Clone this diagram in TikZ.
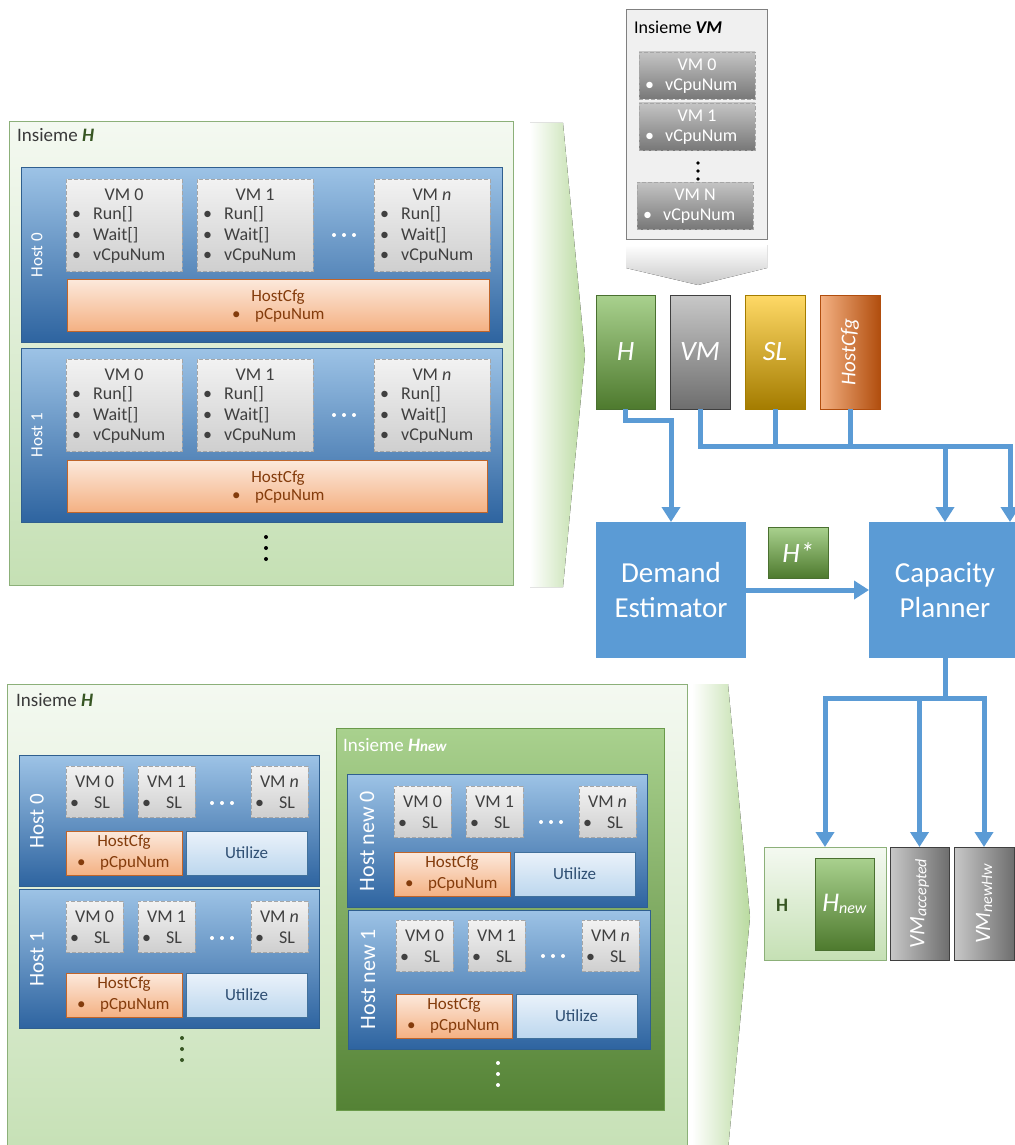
\documentclass[tikz,border=0pt]{standalone}
\usepackage{fontspec}
\setmainfont{Carlito}
\usetikzlibrary{arrows.meta}
\newcommand\fz[1]{\fontsize{#1}{#1}\selectfont}
\definecolor{connC}{HTML}{5B9BD5}
\definecolor{hostT}{HTML}{9DC3E6}
\definecolor{hostB}{HTML}{2E64A0}
\definecolor{hostD}{HTML}{2F5F8F}
\definecolor{insT}{HTML}{F4F9F1}
\definecolor{insB}{HTML}{C5E0B4}
\definecolor{insD}{HTML}{8CB079}
\definecolor{vmT}{HTML}{F2F2F2}
\definecolor{vmB}{HTML}{CFCFCF}
\definecolor{vmD}{HTML}{A6A6A6}
\definecolor{vmTxt}{HTML}{404040}
\definecolor{gvT}{HTML}{C4C4C4}
\definecolor{gvB}{HTML}{787878}
\definecolor{cfgT}{HTML}{FCE9DC}
\definecolor{cfgB}{HTML}{F4B183}
\definecolor{cfgD}{HTML}{C0652A}
\definecolor{cfgTxt}{HTML}{843C0C}
\definecolor{utT}{HTML}{EAF2FA}
\definecolor{utB}{HTML}{BDD7EE}
\definecolor{utD}{HTML}{41719C}
\definecolor{utTxt}{HTML}{2F4F73}
\definecolor{grT}{HTML}{A9D18E}
\definecolor{grB}{HTML}{4E7A2E}
\definecolor{grD}{HTML}{4A7030}
\definecolor{gyT}{HTML}{C8C8C8}
\definecolor{gyB}{HTML}{6E6E6E}
\definecolor{gyD}{HTML}{3F3F3F}
\definecolor{ylT}{HTML}{FFD966}
\definecolor{ylM}{HTML}{FFC000}
\definecolor{ylB}{HTML}{A47C00}
\definecolor{orL}{HTML}{F4B183}
\definecolor{orR}{HTML}{B14E0E}
\definecolor{darkG}{HTML}{375623}
\definecolor{chevG}{HTML}{B9DA9F}
\definecolor{chevGy}{HTML}{C8C8C8}
\definecolor{ivmF}{HTML}{F0F0F0}
\definecolor{txtD}{HTML}{3A3A3A}
\definecolor{hnT}{HTML}{A9D18E}
\definecolor{hnB}{HTML}{548235}
\definecolor{hnD}{HTML}{6A9A4A}

\tikzset{
 box/.style={rectangle,inner sep=0pt,outer sep=0pt,anchor=north west},
 insbox/.style={box,top color=insT,bottom color=insB,draw=insD,line width=1pt},
 hostbox/.style={box,top color=hostT,bottom color=hostB,draw=hostD,line width=0.8pt},
 vmbox/.style={box,top color=vmT,bottom color=vmB,draw=vmD,dash pattern=on 4pt off 2pt,line width=0.8pt},
 gvmbox/.style={box,top color=gvT,bottom color=gvB,draw=vmD,dash pattern=on 4pt off 2pt,line width=0.8pt},
 cfgbox/.style={box,top color=cfgT,bottom color=cfgB,draw=cfgD,line width=0.8pt},
 utbox/.style={box,top color=utT,bottom color=utB,draw=utD,line width=0.8pt},
 gbox/.style={box,top color=grT,bottom color=grB,draw=grD,line width=0.8pt},
 vmtxt/.style={text=vmTxt,font=\fz{18},inner sep=0pt},
 cfgtxt/.style={text=cfgTxt,font=\fz{17},inner sep=0pt},
 uttxt/.style={text=utTxt,font=\fz{17},inner sep=0pt},
 wtxt/.style={text=white,font=\fz{18},inner sep=0pt},
 hostlbl/.style={text=white,rotate=90,inner sep=0pt},
 conn/.style={draw=connC,line width=5pt},
 arr/.style={conn,-{Triangle[width=18pt,length=15pt]}},
 block/.style={box,fill=connC,text=white,align=center,font=\fontsize{29}{35}\selectfont},
}

% top VM box: name, x, y, title
\newcommand\topvm[4]{%
 \node[vmbox,minimum width=116pt,minimum height=92pt] (#1) at (#2,#3) {};
 \node[vmtxt] (#1t) at (#2+58,#3+16) {#4};
 \node[vmtxt,anchor=west] (#1a) at (#2+6,#3+35) {\makebox[21pt][l]{\textbullet}Run[]};
 \node[vmtxt,anchor=west] (#1b) at (#2+6,#3+56) {\makebox[21pt][l]{\textbullet}Wait[]};
 \node[vmtxt,anchor=west] (#1c) at (#2+6,#3+77) {\makebox[21pt][l]{\textbullet}vCpuNum};
}
% small VM box: name, x, y, title
\newcommand\smvm[4]{%
 \node[vmbox,minimum width=57pt,minimum height=51pt] (#1) at (#2,#3) {};
 \node[vmtxt] (#1t) at (#2+28.5,#3+16) {#4};
 \node[vmtxt,anchor=west] (#1a) at (#2+4,#3+37) {\makebox[24pt][l]{\textbullet}SL};
}
% HostCfg + Utilize: name, x, y
\newcommand\smcfg[3]{%
 \node[cfgbox,minimum width=116pt,minimum height=44pt] (#1) at (#2,#3) {};
 \node[cfgtxt] (#1t) at (#2+58,#3+11) {HostCfg};
 \node[cfgtxt,anchor=west] (#1a) at (#2+11,#3+32) {\makebox[23pt][l]{\textbullet}pCpuNum};
 \node[utbox,minimum width=121pt,minimum height=44pt] (#1u) at (#2+120,#3) {};
 \node[uttxt] (#1ut) at (#2+180.5,#3+22) {Utilize};
}
% Insieme VM grey box: name, x, y, title
\newcommand\ivm[4]{%
 \node[gvmbox,minimum width=116pt,minimum height=47pt] (#1) at (#2,#3) {};
 \node[wtxt] (#1t) at (#2+58,#3+13) {#4};
 \node[wtxt,anchor=west] (#1a) at (#2+6,#3+34) {\makebox[20pt][l]{\textbullet}vCpuNum};
}
\newcommand\hdotsrow[3]{\foreach \dx in {-10,0,10} \fill[#3] (#1+\dx,#2) circle (2pt);}
\newcommand\vdotscol[3]{\foreach \dy in {-11,0,11} \fill[#3] (#1,#2+\dy) circle (2pt);}

\begin{document}
\begin{tikzpicture}[x=1pt,y=-1pt]
\useasboundingbox (0,0) rectangle (1014,1145);

% ================= TOP: Insieme H =================
\node[insbox,minimum width=504pt,minimum height=463pt] (insH1) at (9,122) {};
\node[anchor=west,inner sep=0pt,font=\fz{19},text=txtD] (insH1t) at (17,135) {Insieme \textbf{\textit{\color{darkG}H}}};
\fill[left color=white,right color=chevG] (530,123) -- (563,123) -- (585,355) -- (563,587) -- (530,587) -- cycle;

% Host 0
\node[hostbox,minimum width=481pt,minimum height=175pt] (th0) at (21,167) {};
\node[hostlbl,font=\fz{17}] (th0l) at (37,255) {Host 0};
\topvm{th0v0}{66}{179}{VM 0}
\topvm{th0v1}{197}{179}{VM 1}
\topvm{th0vn}{374}{179}{VM \textit{n}}
\hdotsrow{344}{235}{white}
\node[cfgbox,minimum width=422pt,minimum height=52pt] (th0c) at (67,279) {};
\node[cfgtxt] (th0ct) at (278,297) {HostCfg};
\node[cfgtxt,anchor=west] (th0ca) at (232,315) {\makebox[23pt][l]{\textbullet}pCpuNum};

% Host 1
\node[hostbox,minimum width=481pt,minimum height=174pt] (th1) at (21,348) {};
\node[hostlbl,font=\fz{17}] (th1l) at (37,435) {Host 1};
\topvm{th1v0}{66}{359}{VM 0}
\topvm{th1v1}{197}{359}{VM 1}
\topvm{th1vn}{374}{359}{VM \textit{n}}
\hdotsrow{344}{415}{white}
\node[cfgbox,minimum width=420pt,minimum height=52pt] (th1c) at (67,460) {};
\node[cfgtxt] (th1ct) at (278,478) {HostCfg};
\node[cfgtxt,anchor=west] (th1ca) at (232,496) {\makebox[23pt][l]{\textbullet}pCpuNum};
\vdotscol{266}{548}{black}

% ================= Insieme VM =================
\node[box,draw=gray,fill=ivmF,line width=1pt,minimum width=141pt,minimum height=229pt] (insVM) at (626,10) {};
\node[anchor=west,inner sep=0pt,font=\fz{18},text=black] (insVMt) at (634,27) {Insieme \textbf{\textit{VM}}};
\ivm{iv0}{639}{52}{VM 0}
\ivm{iv1}{639}{103}{VM 1}
\ivm{ivn}{637}{182}{VM N}
\foreach \yy in {163,171,179} \fill[black] (698,\yy) circle (1.8pt);
\fill[top color=white,bottom color=chevGy] (626,245) -- (767,245) -- (767,268) -- (698,285) -- (626,268) -- cycle;

% ================= Inputs =================
\node[gbox,minimum width=59pt,minimum height=114pt,text=white,font=\fz{28}\itshape] (H) at (596,295) {H};
\node[box,top color=gyT,bottom color=gyB,draw=gyD,line width=0.8pt,minimum width=60pt,minimum height=114pt,text=white,font=\fz{28}\itshape] (VM) at (670,295) {VM};
\node[box,top color=ylT,middle color=ylM,bottom color=ylB,draw=ylB,line width=0.8pt,minimum width=60pt,minimum height=114pt,text=white,font=\fz{28}\itshape] (SL) at (745,295) {SL};
\node[box,left color=orL,right color=orR,draw=orR,line width=0.8pt,minimum width=60pt,minimum height=114pt] (HC) at (820,295) {};
\node[text=white,rotate=90,font=\fz{21}\itshape,inner sep=0pt] (HCt) at (HC.center) {HostCfg};

% ================= Blocks =================
\node[block,minimum width=150pt,minimum height=136pt] (DE) at (596,522) {Demand\\Estimator};
\node[block,minimum width=152pt,minimum height=136pt] (CP) at (869,522) {Capacity\\Planner};
\node[gbox,minimum width=60pt,minimum height=51pt,text=white,font=\fz{28}\itshape] (Hs) at (768,527) {H*};

% connectors
\coordinate (j1) at (671,420);
\coordinate (bus) at (1010,446);
\coordinate (bus2) at (945,446);
\draw[arr] (H.south) |- (j1) -- (DE.north -| j1);
\draw[arr] (VM.south) |- (bus) -- (bus |- CP.north);
\draw[arr] (bus2) -- (bus2 |- CP.north);
\draw[conn] (SL.south) -- (SL.south |- bus);
\draw[conn] (HC.south) -- (HC.south |- bus);
\draw[arr] (DE.east) -- (CP.west);

% ================= Outputs =================
\node[box,top color=insT,bottom color=insB,draw=insD,line width=1pt,minimum width=122pt,minimum height=113pt] (Hout) at (764,847) {};
\node[text=darkG,font=\fz{19}\bfseries,inner sep=0pt] (Houtt) at (782,905) {H};
\node[gbox,minimum width=59pt,minimum height=92pt] (Hnw) at (815,858) {};
\node[text=white,inner sep=0pt] (Hnwt) at (Hnw.center) {\fz{27}\textit{H}\raisebox{-2pt}{\fz{16}\textit{new}}};
\node[box,left color=gyT,right color=gyB,draw=gyD,line width=0.8pt,minimum width=59pt,minimum height=113pt] (VMa) at (890,847) {};
\node[text=white,rotate=90,inner sep=0pt] (VMat) at (VMa.center) {\fz{22}\textit{VM}\raisebox{-2pt}{\fz{16}\textit{accepted}}};
\node[box,left color=gyT,right color=gyB,draw=gyD,line width=0.8pt,minimum width=60pt,minimum height=113pt] (VMn) at (954,847) {};
\node[text=white,rotate=90,inner sep=0pt] (VMnt) at (VMn.center) {\fz{22}\textit{VM}\raisebox{-2pt}{\fz{16}\textit{newHw}}};

\coordinate (j2) at (945,698);
\draw[conn] (CP.south) -- (j2);
\draw[arr] (j2) -| (Hout.north);
\draw[arr] (j2) -| (VMa.north);
\draw[arr] (j2) -| (VMn.north);

% ================= BOTTOM: Insieme H =================
\node[insbox,minimum width=680pt,minimum height=480pt] (insH2) at (7,684) {};
\node[anchor=west,inner sep=0pt,font=\fz{19},text=txtD] (insH2t) at (16,700) {Insieme \textbf{\textit{\color{darkG}H}}};
\fill[left color=white,right color=chevG] (692,684) -- (728,684) -- (750,917) -- (728,1150) -- (692,1150) -- cycle;

% Host 0
\node[hostbox,minimum width=300pt,minimum height=131pt] (bh0) at (19,755) {};
\node[hostlbl,font=\fz{21}] (bh0l) at (37,821) {Host 0};
\smvm{bh0v0}{66}{766}{VM 0}
\smvm{bh0v1}{138}{766}{VM 1}
\smvm{bh0vn}{251}{766}{VM \textit{n}}
\hdotsrow{222}{803}{white}
\smcfg{bh0c}{66}{831}

% Host 1
\node[hostbox,minimum width=300pt,minimum height=139pt] (bh1) at (19,889) {};
\node[hostlbl,font=\fz{21}] (bh1l) at (37,959) {Host 1};
\smvm{bh1v0}{66}{901}{VM 0}
\smvm{bh1v1}{138}{901}{VM 1}
\smvm{bh1vn}{251}{901}{VM \textit{n}}
\hdotsrow{222}{938}{white}
\smcfg{bh1c}{66}{973}
\vdotscol{182}{1049}{darkG}

% Insieme H_new
\node[box,top color=hnT,bottom color=hnB,draw=hnD,line width=1pt,minimum width=328pt,minimum height=382pt] (insHn) at (336,728) {};
\node[anchor=west,inner sep=0pt,font=\fz{19},text=white] (insHnt) at (343,745) {Insieme \textbf{\textit{H}}\textbf{\textit{\fz{15}new}}};

% Host new 0
\node[hostbox,minimum width=300pt,minimum height=133pt] (hn0) at (347,774) {};
\node[hostlbl,font=\fz{22}] (hn0l) at (367,841) {Host new 0};
\smvm{hn0v0}{394}{786}{VM 0}
\smvm{hn0v1}{466}{786}{VM 1}
\smvm{hn0vn}{579}{786}{VM \textit{n}}
\hdotsrow{551}{822}{white}
\smcfg{hn0c}{394}{852}

% Host new 1
\node[hostbox,minimum width=302pt,minimum height=139pt] (hn1) at (348,910) {};
\node[hostlbl,font=\fz{22}] (hn1l) at (368,979) {Host new 1};
\smvm{hn1v0}{396}{920}{VM 0}
\smvm{hn1v1}{468}{920}{VM 1}
\smvm{hn1vn}{582}{920}{VM \textit{n}}
\hdotsrow{553}{956}{white}
\smcfg{hn1c}{396}{994}
\vdotscol{498}{1074}{white}

\end{tikzpicture}
\end{document}
